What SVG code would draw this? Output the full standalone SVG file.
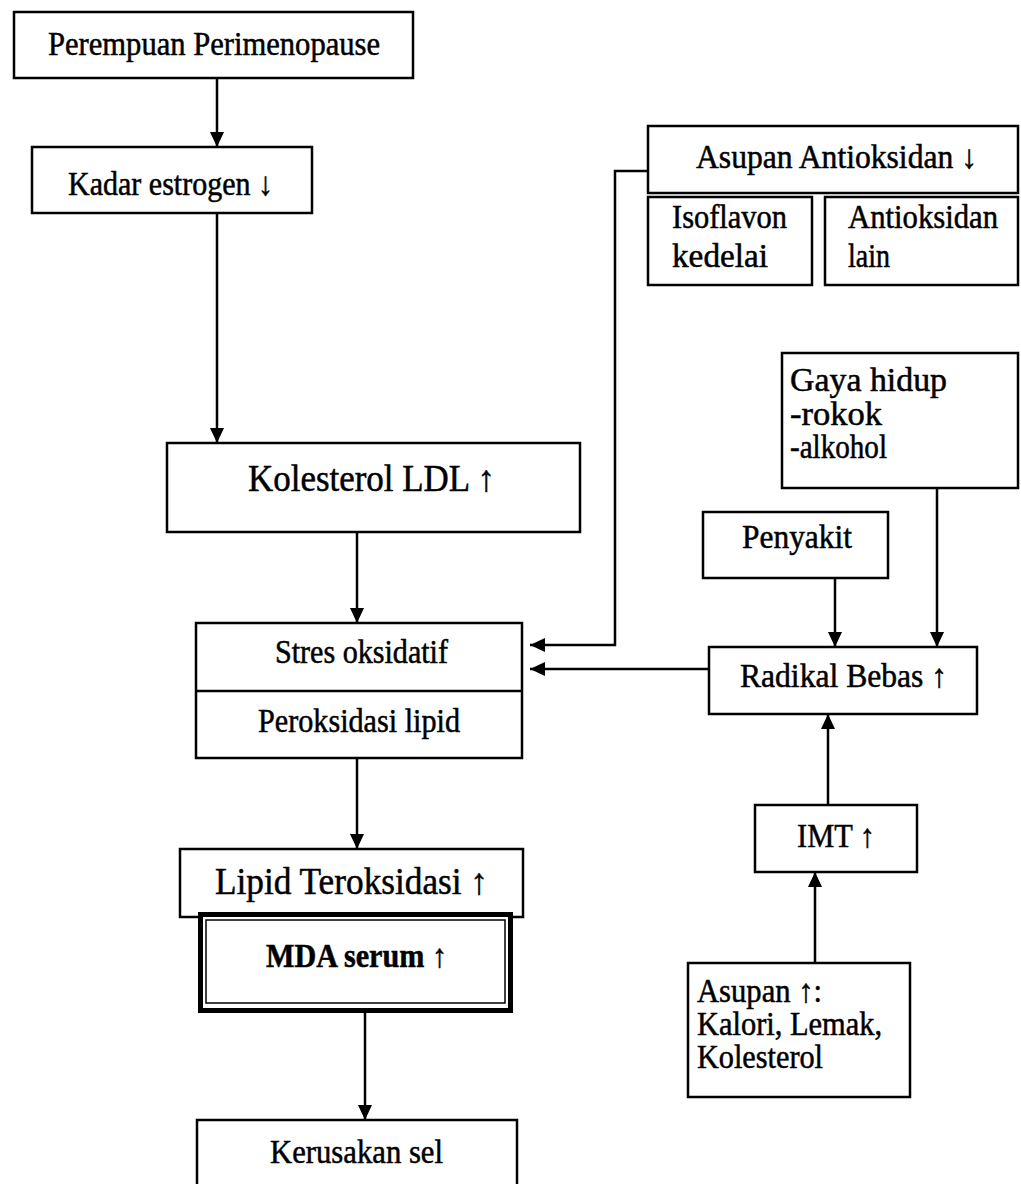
<svg xmlns="http://www.w3.org/2000/svg" width="1021" height="1184" viewBox="0 0 1021 1184">
<defs>
<style>
.box{fill:none;stroke:#000;stroke-width:2.5}
.ln{fill:none;stroke:#000;stroke-width:2.5}
text{font-family:"Liberation Serif","Times New Roman","DejaVu Serif",serif;fill:#000;stroke:#000;stroke-width:0.5}
.t30{font-size:33px}
.t34{font-size:37px}
.b{font-weight:bold}
</style>
<marker id="ah" markerUnits="userSpaceOnUse" markerWidth="16" markerHeight="14" refX="15" refY="7" orient="auto">
<path d="M0,0 L15,7 L0,14 Z" fill="#000"/>
</marker>
</defs>
<rect width="1021" height="1184" fill="#fff"/>

<g id="connectors">
<line class="ln" x1="217" y1="78" x2="217" y2="147" marker-end="url(#ah)"/>
<line class="ln" x1="217" y1="213" x2="217" y2="443" marker-end="url(#ah)"/>
<line class="ln" x1="357" y1="532" x2="357" y2="623" marker-end="url(#ah)"/>
<polyline class="ln" points="648,171 615,171 615,645 530,645" marker-end="url(#ah)"/>
<line class="ln" x1="709" y1="669" x2="530" y2="669" marker-end="url(#ah)"/>
<line class="ln" x1="835" y1="578" x2="835" y2="647" marker-end="url(#ah)"/>
<line class="ln" x1="937" y1="488" x2="937" y2="647" marker-end="url(#ah)"/>
<line class="ln" x1="828" y1="805" x2="828" y2="714" marker-end="url(#ah)"/>
<line class="ln" x1="815" y1="963" x2="815" y2="872" marker-end="url(#ah)"/>
<line class="ln" x1="357" y1="758" x2="357" y2="849" marker-end="url(#ah)"/>
<line class="ln" x1="365" y1="1013" x2="365" y2="1120" marker-end="url(#ah)"/>
</g>

<g id="n-perempuan">
<rect class="box" x="14" y="12" width="399" height="66"/>
<text class="t30" x="48" y="55" textLength="332" lengthAdjust="spacingAndGlyphs">Perempuan Perimenopause</text>
</g>
<g id="n-estrogen">
<rect class="box" x="32" y="147" width="280" height="66"/>
<text class="t30" x="68" y="195" textLength="205" lengthAdjust="spacingAndGlyphs">Kadar estrogen ↓</text>
</g>
<g id="n-ldl">
<rect class="box" x="167" y="443" width="413" height="89"/>
<text class="t34" x="248" y="491" textLength="247" lengthAdjust="spacingAndGlyphs">Kolesterol LDL ↑</text>
</g>
<g id="n-stres">
<rect class="box" x="196" y="623" width="326" height="135"/>
<line class="ln" x1="196" y1="691" x2="522" y2="691"/>
<text class="t30" x="275" y="663" textLength="173" lengthAdjust="spacingAndGlyphs">Stres oksidatif</text>
<text class="t30" x="258" y="732" textLength="202" lengthAdjust="spacingAndGlyphs">Peroksidasi lipid</text>
</g>
<g id="n-lipid">
<rect class="box" x="180" y="849" width="343" height="68"/>
<text class="t34" x="215" y="894" textLength="273" lengthAdjust="spacingAndGlyphs">Lipid Teroksidasi ↑</text>
</g>
<g id="n-mda">
<rect x="200.5" y="914.5" width="310" height="96" fill="#fff" stroke="#000" stroke-width="5"/>
<rect x="206" y="920" width="299" height="83" fill="none" stroke="#000" stroke-width="1.5"/>
<text class="t30 b" x="266" y="967" textLength="181" lengthAdjust="spacingAndGlyphs">MDA serum ↑</text>
</g>
<g id="n-kerusakan">
<rect class="box" x="197" y="1120" width="320" height="80"/>
<text class="t30" x="270" y="1163" textLength="173" lengthAdjust="spacingAndGlyphs">Kerusakan sel</text>
</g>
<g id="n-antioksidan">
<rect class="box" x="648" y="126" width="370" height="67"/>
<text class="t30" x="696" y="168" textLength="281" lengthAdjust="spacingAndGlyphs">Asupan Antioksidan ↓</text>
</g>
<g id="n-isoflavon">
<rect class="box" x="648" y="197" width="164" height="88"/>
<text class="t30" x="672" y="228" textLength="115" lengthAdjust="spacingAndGlyphs">Isoflavon</text>
<text class="t30" x="672" y="267" textLength="96" lengthAdjust="spacingAndGlyphs">kedelai</text>
</g>
<g id="n-lain">
<rect class="box" x="825" y="197" width="193" height="88"/>
<text class="t30" x="848" y="228" textLength="150" lengthAdjust="spacingAndGlyphs">Antioksidan</text>
<text class="t30" x="848" y="267" textLength="42" lengthAdjust="spacingAndGlyphs">lain</text>
</g>
<g id="n-gaya">
<rect class="box" x="782" y="353" width="236" height="135"/>
<text class="t30" x="790" y="391" textLength="157" lengthAdjust="spacingAndGlyphs">Gaya hidup</text>
<text class="t30" x="790" y="425" textLength="92" lengthAdjust="spacingAndGlyphs">-rokok</text>
<text class="t30" x="790" y="458" textLength="97" lengthAdjust="spacingAndGlyphs">-alkohol</text>
</g>
<g id="n-penyakit">
<rect class="box" x="703" y="512" width="185" height="66"/>
<text class="t30" x="742" y="548" textLength="110" lengthAdjust="spacingAndGlyphs">Penyakit</text>
</g>
<g id="n-radikal">
<rect class="box" x="709" y="647" width="268" height="67"/>
<text class="t30" x="740" y="687" textLength="207" lengthAdjust="spacingAndGlyphs">Radikal Bebas  ↑</text>
</g>
<g id="n-imt">
<rect class="box" x="755" y="805" width="162" height="67"/>
<text class="t30" x="797" y="847" textLength="78" lengthAdjust="spacingAndGlyphs">IMT ↑</text>
</g>
<g id="n-asupan">
<rect class="box" x="688" y="963" width="222" height="134"/>
<text class="t30" x="697" y="1002" textLength="125" lengthAdjust="spacingAndGlyphs">Asupan ↑:</text>
<text class="t30" x="697" y="1035" textLength="185" lengthAdjust="spacingAndGlyphs">Kalori, Lemak,</text>
<text class="t30" x="697" y="1068" textLength="126" lengthAdjust="spacingAndGlyphs">Kolesterol</text>
</g>
</svg>
